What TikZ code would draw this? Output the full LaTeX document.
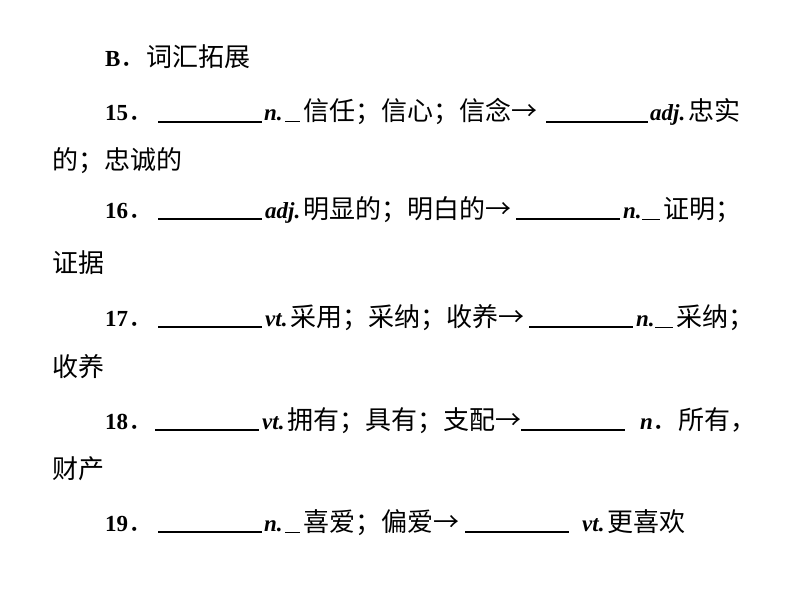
\documentclass[tikz,border=0pt]{standalone}
\usepackage{fontspec}
\setmainfont{Liberation Serif}
\newfontfamily\cjk{Noto Sans CJK SC}
\begin{document}
\begin{tikzpicture}[x=1pt,y=-1pt,
  t/.style={anchor=base west,inner sep=0pt,font=\fontsize{23}{27}\selectfont\bfseries},
  c/.style={anchor=base west,inner sep=0pt,font=\fontsize{26}{30}\selectfont\cjk},
  blank/.style={line width=1.5pt}]
\useasboundingbox[fill=white] (0,0) rectangle (794,596);
% header
\node[t] (h) at (105,67) {B};
\node[c] (hd) at (120,67) {．};
\node[c] (h2) at (146,67) {词汇拓展};
% 15
\node[t] (n15) at (105,121) {15};
\node[c] (d15) at (128,121) {．};
\coordinate (a1) at (158,122); \coordinate (a2) at (262,122); \draw[blank] (a1)--(a2);
\node[t] (p15) at (264,121) {\itshape n.};
\coordinate (s1) at (285,122); \coordinate (s2) at (300,122); \draw[line width=1pt] (s1)--(s2);
\node[c] (z15) at (303,121) {信任；信心；信念→};
\coordinate (b1) at (546,122); \coordinate (b2) at (648,122); \draw[blank] (b1)--(b2);
\node[t] (q15) at (650,121) {\itshape adj.};
\node[c] (w15) at (688,121) {忠实};
\node[c] (l15) at (52,169) {的；忠诚的};
% 16
\node[t] (n16) at (105,218) {16};
\node[c] (d16) at (128,218) {．};
\coordinate (c1) at (158,219); \coordinate (c2) at (262,219); \draw[blank] (c1)--(c2);
\node[t] (p16) at (265,218) {\itshape adj.};
\node[c] (z16) at (303,218) {明显的；明白的→};
\coordinate (d1) at (516,219); \coordinate (d2) at (620,219); \draw[blank] (d1)--(d2);
\node[t] (q16) at (623,218) {\itshape n.};
\coordinate (e1) at (642,219); \coordinate (e2) at (660,219); \draw[line width=1pt] (e1)--(e2);
\node[c] (w16) at (663,218) {证明；};
\node[c] (l16) at (52,272) {证据};
% 17
\node[t] (n17) at (105,326) {17};
\node[c] (d17) at (128,326) {．};
\coordinate (f1) at (158,327); \coordinate (f2) at (262,327); \draw[blank] (f1)--(f2);
\node[t] (p17) at (265,326) {\itshape vt.};
\node[c] (z17) at (290,326) {采用；采纳；收养→};
\coordinate (g1) at (529,327); \coordinate (g2) at (633,327); \draw[blank] (g1)--(g2);
\node[t] (q17) at (636,326) {\itshape n.};
\coordinate (k1) at (655,327); \coordinate (k2) at (673,327); \draw[line width=1pt] (k1)--(k2);
\node[c] (w17) at (676,326) {采纳；};
\node[c] (l17) at (52,376) {收养};
% 18
\node[t] (n18) at (105,429) {18};
\node[c] (d18) at (128,429) {．};
\coordinate (m1) at (155,430); \coordinate (m2) at (259,430); \draw[blank] (m1)--(m2);
\node[t] (p18) at (262,429) {\itshape vt.};
\node[c] (z18) at (287,429) {拥有；具有；支配→};
\coordinate (o1) at (521,430); \coordinate (o2) at (625,430); \draw[blank] (o1)--(o2);
\node[t] (q18) at (640,429) {\itshape n};
\node[c] (w18) at (652,429) {．所有，};
\node[c] (l18) at (52,478) {财产};
% 19
\node[t] (n19) at (105,531) {19};
\node[c] (d19) at (128,531) {．};
\coordinate (r1) at (158,532); \coordinate (r2) at (262,532); \draw[blank] (r1)--(r2);
\node[t] (p19) at (264,531) {\itshape n.};
\coordinate (u1) at (285,532); \coordinate (u2) at (300,532); \draw[line width=1pt] (u1)--(u2);
\node[c] (z19) at (303,531) {喜爱；偏爱→};
\coordinate (v1) at (465,532); \coordinate (v2) at (569,532); \draw[blank] (v1)--(v2);
\node[t] (q19) at (582,531) {\itshape vt.};
\node[c] (w19) at (607,531) {更喜欢};
\end{tikzpicture}
\end{document}
